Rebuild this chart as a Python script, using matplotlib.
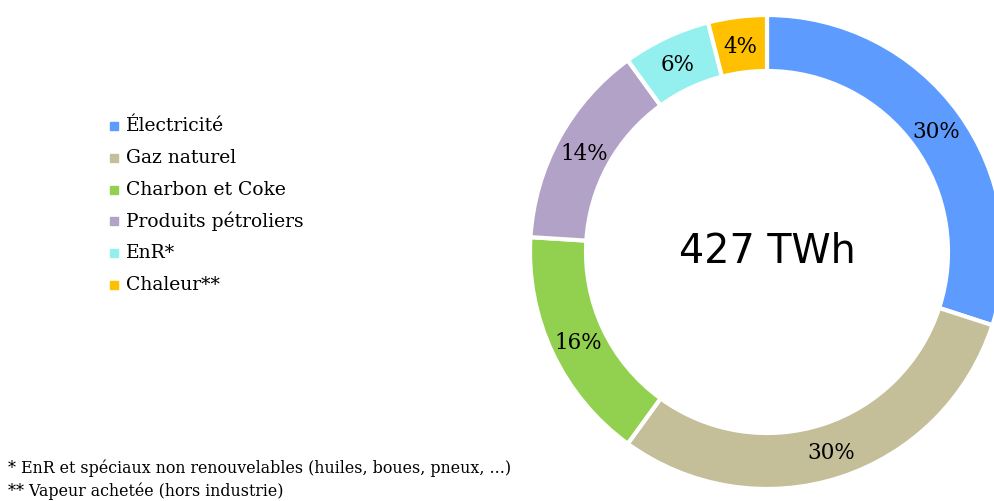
import matplotlib
matplotlib.use("Agg")
import matplotlib.pyplot as plt

categories = ["Électricité", "Gaz naturel", "Charbon et Coke", "Produits pétroliers", "EnR*", "Chaleur**"]
values = [30, 30, 16, 14, 6, 4]
colors = ["#5E9BFF", "#C4BE99", "#92D050", "#B3A2C7", "#93F0EE", "#FFC000"]
total_label = "427 TWh"
footnotes = ["* EnR et spéciaux non renouvelables (huiles, boues, pneux, ...)",
             "** Vapeur achetée (hors industrie)"]

W, H = 995, 501
fig = plt.figure(figsize=(W / 100, H / 100), dpi=100)

cx, cy, R = 767, 252, 237
ax = fig.add_axes([(cx - R) / W, (H - cy - R) / H, 2 * R / W, 2 * R / H])
ax.set_xlim(-1, 1)
ax.set_ylim(-1, 1)
ax.set_aspect("equal")
ax.axis("off")

inner = 181 / 237
wedges, texts = ax.pie(values, colors=colors, startangle=90, counterclock=False,
                       radius=1, wedgeprops=dict(width=1 - inner, edgecolor="white", linewidth=3),
                       labels=[f"{v}%" for v in values], labeldistance=(1 + inner) / 2,
                       textprops=dict(family="DejaVu Serif", fontsize=15.5, ha="center",
                                      va="center_baseline"))
ax.set_xlim(-1, 1)
ax.set_ylim(-1, 1)
ax.text(0, 0, total_label, ha="center", va="center", fontsize=28.5, family="DejaVu Sans")

# legend
y0, dy = 126, 31.8
for i, (c, col) in enumerate(zip(categories, colors)):
    y = y0 + i * dy
    fig.patches.append(plt.Rectangle((110 / W, 1 - (y + 4) / H), 8 / W, 8 / H,
                                     transform=fig.transFigure, color=col, figure=fig))
    fig.text(126 / W, 1 - y / H, c, ha="left", va="center", fontsize=13.5, family="DejaVu Serif")

for i, t in enumerate(footnotes):
    fig.text(8 / W, 1 - (468 + i * 23) / H, t, ha="left", va="center", fontsize=11.4, family="DejaVu Serif")

fig.savefig("out.png", dpi=100)
